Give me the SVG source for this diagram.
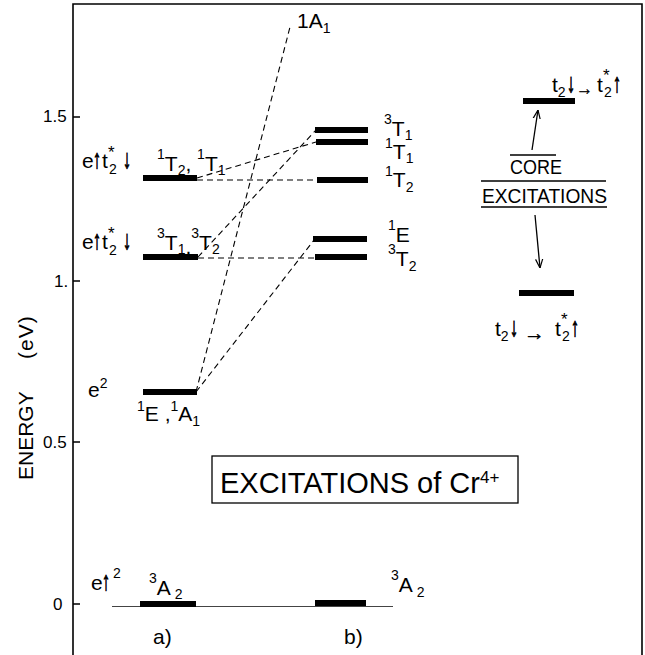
<svg xmlns="http://www.w3.org/2000/svg" width="645" height="655" viewBox="0 0 645 655">
<style>
text{font-family:"Liberation Sans",Arial,sans-serif;fill:#000}
.m{font-size:21px}
.s{font-size:14px}
.st{font-size:17px}
.ax{font-size:17px}
.ar{font-family:"Liberation Sans",Arial,sans-serif;font-size:27px;font-weight:bold;stroke:#000;stroke-width:0.9}
.ra{font-family:"Liberation Sans",Arial,sans-serif;font-size:26px;font-weight:bold;stroke:#000;stroke-width:0.5}
.bar{stroke:#000;stroke-width:6}
.dash{stroke:#000;stroke-width:1.1;stroke-dasharray:6 4;fill:none}
.frame{stroke:#000;stroke-width:1.6;fill:none}
.thin{stroke:#000;stroke-width:1.3;fill:none}
</style>
<defs>
<marker id="ah" viewBox="0 0 10 10" refX="10" refY="5" markerWidth="9" markerHeight="9" orient="auto" markerUnits="userSpaceOnUse">
<path d="M0,1 L10,5 L0,9" fill="none" stroke="#000" stroke-width="1.3"/>
</marker>
</defs>
<rect width="645" height="655" fill="#fff"/>

<g id="frame">
<path class="frame" d="M73,655 V4 H642 V655"/>
<path class="thin" d="M73,117 H80 M73,281 H80 M73,442 H80 M73,604 H80"/>
<text class="ax" x="43" y="122">1.5</text>
<text class="ax" x="54" y="287">1.</text>
<text class="ax" x="43" y="448">0.5</text>
<text class="ax" x="53" y="610">0</text>
<text class="m" transform="translate(33,480) rotate(-90)">ENERGY<tspan x="121" letter-spacing="1">(eV)</tspan></text>
<line x1="112" y1="606.5" x2="393" y2="606.5" stroke="#444" stroke-width="1"/>
</g>

<g id="connectors">
<line class="dash" x1="197" y1="178" x2="316" y2="142"/>
<line class="dash" x1="197" y1="180" x2="316" y2="180"/>
<line class="dash" x1="198" y1="257" x2="316" y2="130"/>
<line class="dash" x1="198" y1="258" x2="316" y2="258"/>
<line class="dash" x1="196" y1="392" x2="290" y2="27"/>
<line class="dash" x1="196" y1="392" x2="314" y2="240"/>
<line class="thin" x1="532" y1="150" x2="538" y2="110" marker-end="url(#ah)"/>
<line class="thin" x1="535" y1="215" x2="540" y2="268" marker-end="url(#ah)"/>
</g>

<g id="a-1T">
<line class="bar" x1="143" y1="178" x2="197" y2="178"/>
<text class="m" x="82" y="168">e</text>
<text class="ar" transform="translate(93,168) scale(0.6,1)">↑</text>
<text class="m" x="102" y="168">t<tspan class="s" x="109" dy="6">2</tspan><tspan class="st" x="108" dy="-16">*</tspan></text>
<text class="ar" transform="translate(123,168) scale(0.6,1)">↓</text>
<text class="m" x="157" y="171"><tspan class="s" dy="-12">1</tspan><tspan dy="12">T</tspan><tspan class="s" dy="4">2</tspan><tspan dy="-4">, </tspan><tspan class="s" dy="-12">1</tspan><tspan dy="12">T</tspan><tspan class="s" dy="4">1</tspan></text>
</g>

<g id="a-3T">
<line class="bar" x1="143" y1="257" x2="198" y2="257"/>
<text class="m" x="82" y="249">e</text>
<text class="ar" transform="translate(93,249) scale(0.6,1)">↑</text>
<text class="m" x="102" y="249">t<tspan class="s" x="109" dy="6">2</tspan><tspan class="st" x="108" dy="-16">*</tspan></text>
<text class="ar" transform="translate(123,249) scale(0.6,1)">↓</text>
<text class="m" x="157" y="250"><tspan class="s" dy="-12">3</tspan><tspan dy="12">T</tspan><tspan class="s" dy="4">1</tspan><tspan dy="0">,</tspan><tspan class="s" dy="-16">3</tspan><tspan dy="12">T</tspan><tspan class="s" dy="4">2</tspan></text>
</g>

<g id="a-1E">
<line class="bar" x1="143" y1="392" x2="197" y2="392"/>
<text class="m" x="88" y="397">e<tspan class="s" dy="-9">2</tspan></text>
<text class="m" x="137" y="421"><tspan class="s" dy="-10">1</tspan><tspan dy="10">E ,</tspan><tspan class="s" dy="-10">1</tspan><tspan dy="10">A</tspan><tspan class="s" dy="5">1</tspan></text>
</g>

<g id="a-3A2">
<line class="bar" x1="140" y1="604" x2="196" y2="604"/>
<text class="m" x="91" y="590">e</text>
<text class="ar" transform="translate(102,590) scale(0.6,1)">↑</text>
<text class="s" x="113" y="578">2</text>
<text class="m" x="149" y="595"><tspan class="s" dy="-12">3</tspan><tspan dy="12">A</tspan><tspan class="s" dy="4"> 2</tspan></text>
<text class="m" x="153" y="644">a)</text>
</g>

<g id="top-1A1">
<text class="m" x="297" y="28">1A<tspan class="s" dy="5">1</tspan></text>
</g>

<g id="b-3T1">
<line class="bar" x1="315" y1="130" x2="368" y2="130" stroke-width="7"/>
<text class="m" x="384" y="136"><tspan class="s" dy="-12">3</tspan><tspan dy="12">T</tspan><tspan class="s" dy="4">1</tspan></text>
</g>
<g id="b-1T1">
<line class="bar" x1="316" y1="142" x2="368" y2="142" stroke-width="5"/>
<text class="m" x="385" y="159"><tspan class="s" dy="-11">1</tspan><tspan dy="11">T</tspan><tspan class="s" dy="4">1</tspan></text>
</g>
<g id="b-1T2">
<line class="bar" x1="317" y1="180" x2="368" y2="180" stroke-width="7"/>
<text class="m" x="385" y="187"><tspan class="s" dy="-11">1</tspan><tspan dy="11">T</tspan><tspan class="s" dy="5">2</tspan></text>
</g>
<g id="b-1E">
<line class="bar" x1="313" y1="239" x2="367" y2="239" stroke-width="5"/>
<text class="m" x="388" y="242"><tspan class="s" dy="-12">1</tspan><tspan dy="12">E</tspan></text>
</g>
<g id="b-3T2">
<line class="bar" x1="315" y1="257" x2="367" y2="257"/>
<text class="m" x="388" y="266"><tspan class="s" dy="-12">3</tspan><tspan dy="12">T</tspan><tspan class="s" dy="5">2</tspan></text>
</g>
<g id="b-3A2">
<line class="bar" x1="315" y1="603" x2="366" y2="603" stroke-width="8"/>
<text class="m" x="391" y="592"><tspan class="s" dy="-12">3</tspan><tspan dy="12">A</tspan><tspan class="s" dy="5"> 2</tspan></text>
<text class="m" x="344" y="644">b)</text>
</g>

<g id="core-upper">
<line class="bar" x1="523" y1="101" x2="575" y2="101" stroke-width="7"/>
<text class="m" x="552" y="92">t<tspan class="s" dy="5">2</tspan></text>
<text class="ar" transform="translate(567,92) scale(0.6,1)">↓</text>
<text class="ra" transform="translate(576,95) scale(0.65,0.75)">→</text>
<text class="m" x="597" y="92">t<tspan class="s" x="604" dy="5">2</tspan><tspan class="st" x="603" dy="-16">*</tspan></text>
<text class="ar" transform="translate(613,92) scale(0.6,1)">↑</text>
</g>
<g id="core-label">
<text class="m" x="510" y="174" textLength="52" lengthAdjust="spacingAndGlyphs">CORE</text>
<text class="m" x="482" y="203" textLength="125" lengthAdjust="spacingAndGlyphs">EXCITATIONS</text>
<path class="thin" d="M510,155 H556 M481,181 H606 M481,207 H607"/>
</g>
<g id="core-lower">
<line class="bar" x1="519" y1="293" x2="574" y2="293" stroke-width="8"/>
<text class="m" x="495" y="336">t<tspan class="s" dy="5">2</tspan></text>
<text class="ar" transform="translate(510,336) scale(0.6,1)">↓</text>
<text class="ra" transform="translate(524,340) scale(0.8,0.8)">→</text>
<text class="m" x="555" y="336">t<tspan class="s" x="562" dy="5">2</tspan><tspan class="st" x="561" dy="-16">*</tspan></text>
<text class="ar" transform="translate(571,336) scale(0.6,1)">↑</text>
</g>

<g id="title">
<rect x="212" y="456" width="306" height="47" class="thin" stroke-width="1.5"/>
<text x="220" y="493" font-size="29">EXCITATIONS of Cr<tspan font-size="17" dy="-10">4+</tspan></text>
</g>
</svg>
